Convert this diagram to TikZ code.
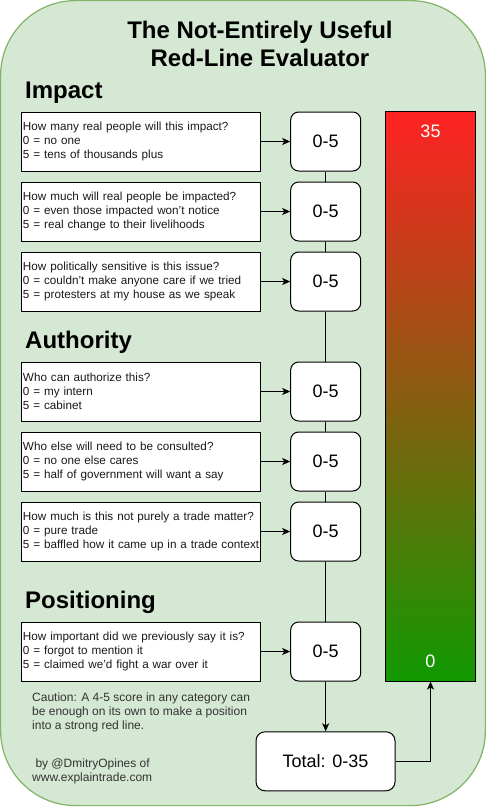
\documentclass[tikz,border=0pt]{standalone}
\usepackage{fontspec}
\setmainfont{Liberation Sans}
\usetikzlibrary{arrows.meta}
\definecolor{bgfill}{HTML}{D5E8D4}
\definecolor{bgline}{HTML}{82B366}
\definecolor{barred}{HTML}{FF2222}
\definecolor{bargreen}{HTML}{119900}
\definecolor{qtext}{HTML}{1A1A1A}
\definecolor{ctext}{HTML}{333333}
\begin{document}
\begin{tikzpicture}[x=1pt,y=-1pt,
  qbox/.style={draw=black, fill=white, line width=1pt, minimum height=59pt, text width=236pt, inner xsep=1.5pt, inner ysep=2pt, align=left, text=qtext, font=\fontsize{11.7}{14}\selectfont},
  sbox/.style={draw=black, fill=white, line width=1pt, rounded corners=8pt, minimum width=70pt, minimum height=59pt, font=\fontsize{18}{21}\selectfont},
  head/.style={anchor=base west, inner sep=0pt, font=\bfseries\fontsize{24}{28}\selectfont},
  arr/.style={line width=1pt, -{Stealth[length=8pt,width=7pt,inset=2pt]}},
  link/.style={line width=1pt}]
\useasboundingbox (0,0) rectangle (486,807);
\draw[fill=bgfill, draw=bgline, line width=1.2pt, rounded corners=75pt] (0.6,0.6) rectangle (485.4,805.6);

\node[align=center, font=\bfseries\fontsize{24}{27.5}\selectfont, inner sep=0pt] (title) at (260,44) {The Not-Entirely Useful\\Red-Line Evaluator};

\node[head] (hImpact) at (25,98.3) {Impact};
\node[head] (hAuth) at (25,348.3) {Authority};
\node[head] (hPos) at (25,608.3) {Positioning};

% question boxes
\node[qbox, anchor=west] (q1) at (21,141.5) {How many real people will this impact?\\0 = no one\\5 = tens of thousands plus};
\node[qbox, anchor=west] (q2) at (21,211.5) {How much will real people be impacted?\\0 = even those impacted won't notice\\5 = real change to their livelihoods};
\node[qbox, anchor=west] (q3) at (21,281.5) {How politically sensitive is this issue?\\0 = couldn't make anyone care if we tried\\5 = protesters at my house as we speak};
\node[qbox, anchor=west] (q4) at (21,391.5) {Who can authorize this?\\0 = my intern\\5 = cabinet};
\node[qbox, anchor=west] (q5) at (21,461.5) {Who else will need to be consulted?\\0 = no one else cares\\5 = half of government will want a say};
\node[qbox, anchor=west] (q6) at (21,531.5) {\mbox{How much is this not purely a trade matter?}\\0 = pure trade\\\mbox{5 = baffled how it came up in a trade context}};
\node[qbox, anchor=west] (q7) at (21,651.5) {How important did we previously say it is?\\0 = forgot to mention it\\5 = claimed we'd fight a war over it};

% score boxes
\node[sbox] (s1) at (325.7,141.5) {0-5};
\node[sbox] (s2) at (325.7,211.5) {0-5};
\node[sbox] (s3) at (325.7,281.5) {0-5};
\node[sbox] (s4) at (325.7,391.5) {0-5};
\node[sbox] (s5) at (325.7,461.5) {0-5};
\node[sbox] (s6) at (325.7,531.5) {0-5};
\node[sbox] (s7) at (325.7,651.5) {0-5};

\node[sbox, minimum width=139pt, rounded corners=9pt] (total) at (325.5,761.3) {Total: 0-35};

% bar
\node[draw=black, line width=1pt, top color=barred, bottom color=bargreen, minimum width=90.4pt, minimum height=569.3pt, inner sep=0pt] (bar) at (430.5,396.4) {};
\node[text=white, font=\fontsize{18}{21}\selectfont, inner sep=0pt] (top35) at (430.5,131) {35};
\node[text=white, font=\fontsize{18}{21}\selectfont, inner sep=0pt] (bot0) at (430.5,661.5) {0};

% notes
\node[anchor=west, align=left, inner sep=0pt, text=ctext, font=\fontsize{12}{14}\selectfont] (caution) at (32,712) {Caution: A 4-5 score in any category can\\be enough on its own to make a position\\into a strong red line.};
\node[anchor=west, align=left, inner sep=0pt, text=ctext, font=\fontsize{12}{14}\selectfont] (credit) at (32,771.5) {\hspace{3.3pt}by @DmitryOpines of\\www.explaintrade.com};

% connectors
\foreach \i in {1,...,7} {\draw[arr] (q\i) -- (s\i);}
\draw[link] (s1) -- (s2);
\draw[link] (s2) -- (s3);
\draw[link] (s3) -- (s4);
\draw[link] (s4) -- (s5);
\draw[link] (s5) -- (s6);
\draw[link] (s6) -- (s7);
\draw[arr] (s7.south) -- (s7.south |- total.north);
\draw[arr] (total.east) -| (bar.south);
\end{tikzpicture}
\end{document}
